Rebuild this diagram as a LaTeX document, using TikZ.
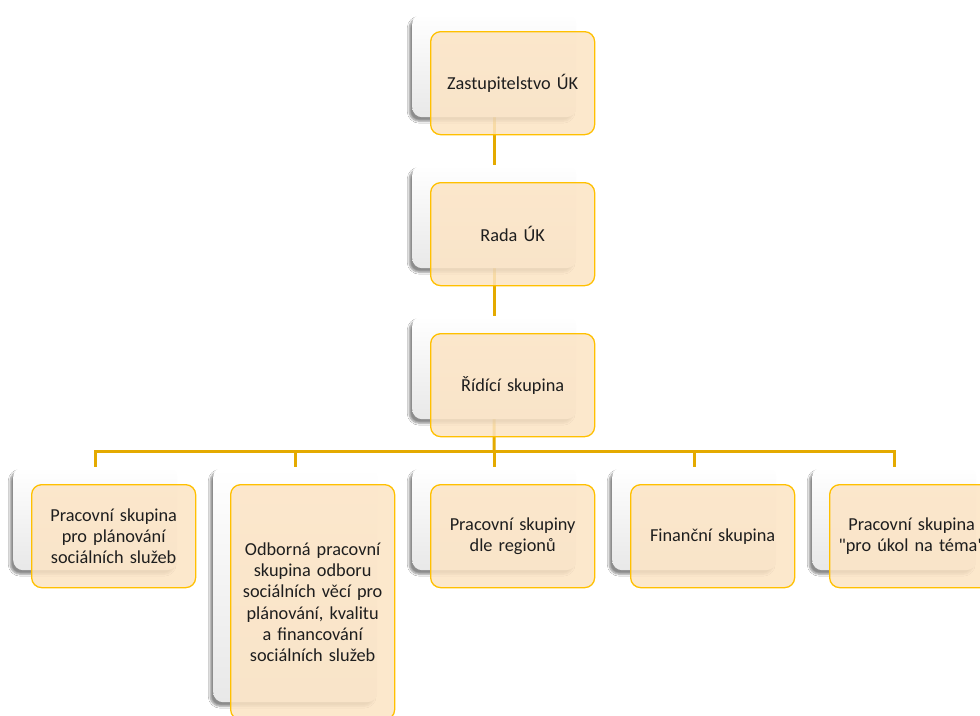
\documentclass[tikz,border=0pt]{standalone}
\usepackage{fontspec}
\setmainfont{Carlito}[Ligatures=TeXOff]
\usetikzlibrary{shadows.blur,backgrounds}
\definecolor{linegold}{RGB}{228,170,0}
\definecolor{cardedge}{RGB}{255,192,0}
\definecolor{cardfill}{RGB}{252,228,196}
\definecolor{txt}{RGB}{30,30,30}
\tikzset{
  conn/.style={draw=linegold, line width=3pt, line join=miter},
  backcard/.style={rounded corners=10pt, top color=white, bottom color=black!9,
    draw=none, minimum width=164pt, inner sep=0pt, anchor=north west,
    blur shadow={shadow xshift=-3pt, shadow yshift=-4pt, shadow opacity=45, shadow blur steps=6}},
  frontcard/.style={rounded corners=10pt, fill=cardfill, fill opacity=0.85, text opacity=1,
    draw=cardedge, line width=1.3pt, minimum width=164pt, inner sep=0pt, anchor=north west,
    text width=154pt, align=center, text=txt,
    font=\fontsize{18.3}{21.2}\selectfont},
}
\begin{document}
\begin{tikzpicture}[x=1pt,y=-1pt]
\useasboundingbox (0,0) rectangle (980,715);
\clip (0,0) rectangle (980,715);
% cards
\node[backcard, minimum height=103pt] (a1) at (412,14) {};
\node[frontcard, minimum height=103pt] (z1) at (430,31) {Zastupitelstvo ÚK};
\node[backcard, minimum height=103pt] (a2) at (412,165) {};
\node[frontcard, minimum height=103pt] (z2) at (430,182) {Rada ÚK};
\node[backcard, minimum height=103pt] (a3) at (412,316) {};
\node[frontcard, minimum height=103pt] (z3) at (430,333) {Řídící skupina};

\node[backcard, minimum height=103pt] (s1) at (13,467) {};
\node[frontcard, minimum height=103pt] (f1) at (31,484) {Pracovní skupina\\pro plánování\\sociálních služeb};
\node[backcard, minimum height=235pt] (s2) at (213,467) {};
\node[frontcard, minimum height=235pt] (f2) at (230,484) {Odborná pracovní\\skupina odboru\\sociálních věcí pro\\plánování, kvalitu\\a financování\\sociálních služeb};
\node[backcard, minimum height=103pt] (s3) at (412,467) {};
\node[frontcard, minimum height=103pt] (f3) at (430,484) {Pracovní skupiny\\dle regionů};
\node[backcard, minimum height=103pt] (s4) at (612,467) {};
\node[frontcard, minimum height=103pt] (f4) at (630,484) {Finanční skupina};
\node[backcard, minimum height=103pt] (s5) at (812,467) {};
\node[frontcard, minimum height=103pt] (f5) at (829,484) {Pracovní skupina\\"pro úkol na téma"};

\coordinate (bus) at (494,451);
\begin{pgfonlayer}{background}
\fill[white] (0,0) rectangle (980,715);
\draw[conn] (a1.center) -- (a2.center);
\draw[conn] (a2.center) -- (a3.center);
\draw[conn] (a3.center) -- (bus);
\foreach \n in {1,...,5}{
  \draw[conn] (bus) -| (s\n.center);
}
\end{pgfonlayer}
\end{tikzpicture}
\end{document}
